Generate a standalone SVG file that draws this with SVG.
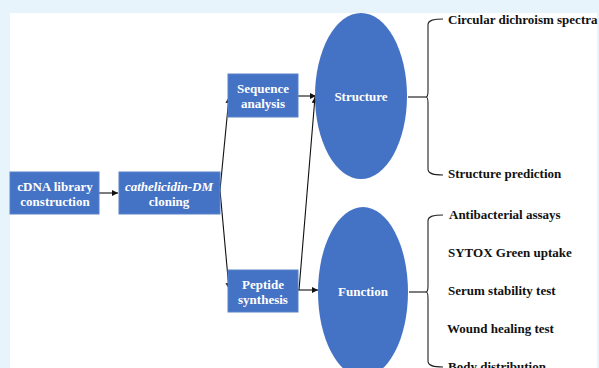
<svg xmlns="http://www.w3.org/2000/svg" width="599" height="368" viewBox="0 0 599 368">
<defs>
<style>
.box{fill:#4472C4;stroke:#5a82c9;stroke-width:1}
.ell{fill:#4472C4}
.wt{fill:#fff;font-family:"Liberation Serif","Times New Roman",serif;font-weight:bold;font-size:13px;text-anchor:middle}
.bt{fill:#111;font-family:"Liberation Serif","Times New Roman",serif;font-weight:bold;font-size:13px}
.ln{stroke:#111;stroke-width:1.1;fill:none}
.br{stroke:#222;stroke-width:1.1;fill:none}
</style>
<marker id="ah" viewBox="0 0 6 6" refX="6" refY="3" markerWidth="6" markerHeight="6" orient="auto" markerUnits="userSpaceOnUse">
<path d="M0,0 L6,3 L0,6 z" fill="#111"/>
</marker>
</defs>
<rect x="0" y="0" width="599" height="368" fill="#E8F4FB"/>
<rect x="10" y="13" width="587" height="355" fill="#fff"/>

<g id="connectors">
<line class="ln" x1="99" y1="193" x2="118" y2="193" marker-end="url(#ah)"/>
<line class="ln" x1="220" y1="190" x2="229" y2="97" marker-end="url(#ah)"/>
<line class="ln" x1="220" y1="190" x2="229" y2="289" marker-end="url(#ah)"/>
<line class="ln" x1="298" y1="96" x2="316" y2="96" marker-end="url(#ah)"/>
<line class="ln" x1="299" y1="290" x2="315" y2="97" marker-end="url(#ah)"/>
<line class="ln" x1="298" y1="290" x2="318" y2="290" marker-end="url(#ah)"/>
<line class="ln" x1="408" y1="97" x2="426" y2="97"/>
<line class="ln" x1="409" y1="292" x2="426" y2="292"/>
</g>

<g id="brace-structure">
<path class="br" d="M443,19 C434,19 428,20 428,25 L428,91 C428,95 427,97 426,97 C427,97 428,99 428,103 L428,169 C428,174 434,175 443,175"/>
</g>
<g id="brace-function">
<path class="br" d="M443,215 C434,215 428,216 428,221 L428,286 C428,290 427,292 426,292 C427,292 428,294 428,298 L428,361 C428,366 434,367 443,367"/>
</g>

<g id="n-cdna">
<rect class="box" x="10" y="172" width="89" height="42"/>
<text class="wt" x="55" y="191">cDNA library</text>
<text class="wt" x="55" y="206">construction</text>
</g>
<g id="n-cathelicidin">
<rect class="box" x="119" y="172" width="101" height="42"/>
<text class="wt" x="169" y="191" font-style="italic">cathelicidin-DM</text>
<text class="wt" x="169" y="206">cloning</text>
</g>
<g id="n-sequence">
<rect class="box" x="228" y="74" width="70" height="43"/>
<text class="wt" x="263" y="93">Sequence</text>
<text class="wt" x="263" y="108">analysis</text>
</g>
<g id="n-peptide">
<rect class="box" x="228" y="270" width="70" height="42"/>
<text class="wt" x="263" y="289">Peptide</text>
<text class="wt" x="263" y="304">synthesis</text>
</g>
<g id="n-structure">
<ellipse class="ell" cx="361" cy="96" rx="46" ry="83"/>
<text class="wt" x="361" y="101">Structure</text>
</g>
<g id="n-function">
<ellipse class="ell" cx="363" cy="292" rx="45" ry="85"/>
<text class="wt" x="363" y="296">Function</text>
</g>

<g id="labels">
<text class="bt" x="448" y="24">Circular dichroism spectra</text>
<text class="bt" x="448" y="178">Structure prediction</text>
<text class="bt" x="449" y="219">Antibacterial assays</text>
<text class="bt" x="448" y="257">SYTOX Green uptake</text>
<text class="bt" x="448" y="295">Serum stability test</text>
<text class="bt" x="447" y="333">Wound healing test</text>
<text class="bt" x="448" y="371">Body distribution</text>
</g>
</svg>
